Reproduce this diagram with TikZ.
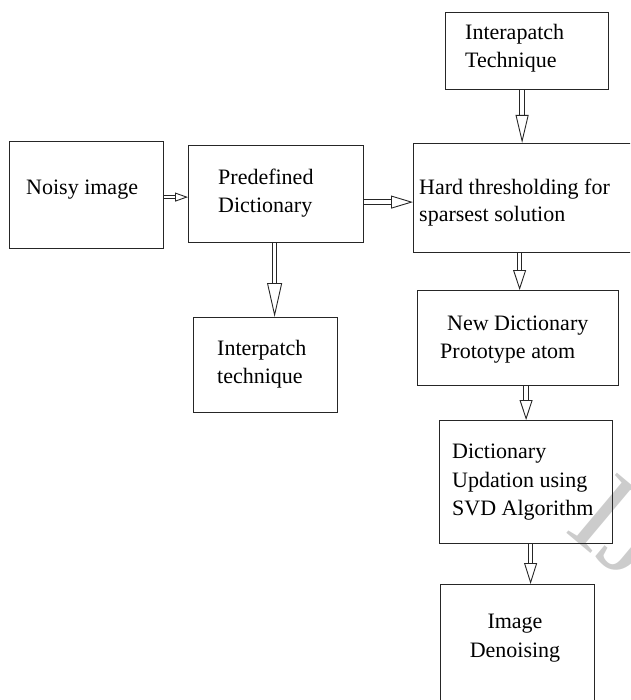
\documentclass[tikz,border=0pt]{standalone}
\usepackage{fontspec}
\setmainfont{Liberation Serif}
\usetikzlibrary{arrows.meta,calc}
\tikzset{
  box/.style={draw=black!85, line width=1.2pt, rectangle, inner sep=0pt, anchor=north west},
  lbl/.style={inner sep=0pt, anchor=base west, text=black, font=\fontsize{22}{28}\selectfont},
  lblc/.style={inner sep=0pt, anchor=base, text=black, font=\fontsize{22}{28}\selectfont},
  blk/.style={draw=black!85, double, double distance=3.5pt, line width=0.9pt,
    -{Triangle[open, length=#1, width=13pt, line width=0.9pt]}},
  blk/.default=21pt,
}
\begin{document}
\begin{tikzpicture}[x=1pt, y=-1pt]
\useasboundingbox (0,0) rectangle (630,700);
\clip (0,0) rectangle (630,700);
% watermark
\node[inner sep=0pt, anchor=base west, rotate=-40, text=black!20, font=\fontsize{120}{120}\selectfont] (wm) at (563,530) {IJERT};
% boxes
\node[box, minimum width=154pt, minimum height=107pt] (noisy) at (9,141) {};
\node[box, minimum width=175pt, minimum height=97pt] (pre) at (188,145) {};
\node[box, minimum width=163pt, minimum height=77pt] (inter) at (445,12) {};
\node[box, minimum width=240pt, minimum height=109pt] (hard) at (413,143) {};
\node[box, minimum width=144pt, minimum height=95pt] (ip) at (193,317) {};
\node[box, minimum width=201pt, minimum height=95pt] (new) at (417,290) {};
\node[box, minimum width=173pt, minimum height=123pt] (upd) at (439,420) {};
\node[box, minimum width=154pt, minimum height=140pt] (den) at (440,584) {};
% texts
\node[lbl] (t1) at (26,195) {Noisy image};
\node[lbl] (t2a) at (218,185) {Predefined};
\node[lbl] (t2b) at (218,213) {Dictionary};
\node[lbl] (t3a) at (465,40) {Interapatch};
\node[lbl] (t3b) at (465,68) {Technique};
\node[lbl] (t4a) at (419,195) {Hard thresholding for};
\node[lbl] (t4b) at (419,222) {sparsest solution};
\node[lbl] (t5a) at (217,355) {Interpatch};
\node[lbl] (t5b) at (217,383) {technique};
\node[lbl] (t6a) at (447,330) {New Dictionary};
\node[lbl] (t6b) at (440,358) {Prototype atom};
\node[lbl] (t7a) at (452,458) {Dictionary};
\node[lbl] (t7b) at (452,487) {Updation using};
\node[lbl] (t7c) at (452,515) {SVD Algorithm};
\node[lblc] (t8a) at (515,628) {Image};
\node[lblc] (t8b) at (515,657) {Denoising};
% arrows
\draw[blk=13pt, -{Triangle[open, length=13pt, width=9pt, line width=0.9pt]}, double distance=2.5pt] ([yshift=-2pt]noisy.east) -- ([yshift=-2pt]noisy.east -| pre.west);
\draw[blk=22pt] ([yshift=-8pt]pre.east) -- ([yshift=-8pt]pre.east -| hard.west);
\draw[blk=28pt] ([xshift=-5pt]inter.south) -- ([xshift=-5pt]inter.south |- hard.north);
\draw[blk=34pt, -{Triangle[open, length=34pt, width=15pt, line width=0.9pt]}] ([xshift=-1.5pt]pre.south) -- ([xshift=-1.5pt]pre.south |- ip.north);
\draw[blk=20pt] ([xshift=1.5pt]new.north |- hard.south) -- ([xshift=1.5pt]new.north);
\draw[blk=20pt] (upd.north |- new.south) -- (upd.north);
\draw[blk=21pt] ([xshift=4.5pt]upd.south) -- ([xshift=4.5pt]upd.south |- den.north);
\end{tikzpicture}
\end{document}
